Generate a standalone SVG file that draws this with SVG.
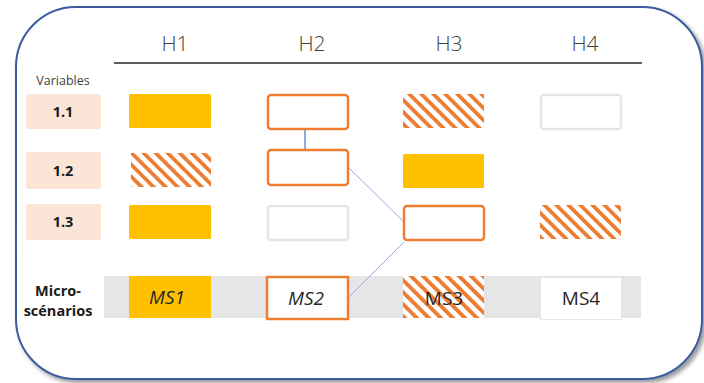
<svg xmlns="http://www.w3.org/2000/svg" width="704" height="383" viewBox="0 0 704 383">
  <defs>
    <pattern id="hatch" patternUnits="userSpaceOnUse" width="8.5" height="8.5" patternTransform="rotate(-45)">
      <rect width="8.5" height="8.5" fill="#ffffff"/>
      <rect width="3.8" height="8.5" fill="#ED7D31"/>
    </pattern>
    <filter id="shadow" x="-5%" y="-5%" width="110%" height="110%">
      <feGaussianBlur in="SourceAlpha" stdDeviation="2"/>
      <feOffset dx="2.5" dy="2.5" result="b"/>
      <feFlood flood-color="#000" flood-opacity="0.4"/>
      <feComposite in2="b" operator="in"/>
      <feMerge><feMergeNode/><feMergeNode in="SourceGraphic"/></feMerge>
    </filter>
  </defs>
  <style>
    .head { font-family: "Open Sans", "Liberation Sans", sans-serif; font-weight: 300; font-size: 21px; fill: #404040; text-anchor: middle; }
    .var { fill: #FBE5D6; }
    .varlbl { font-family: "Open Sans", "Liberation Sans", sans-serif; font-weight: 700; font-size: 14.5px; fill: #1a1a1a; text-anchor: middle; }
    .gold { fill: #FFC000; }
    .hatch { fill: url(#hatch); }
    .sel { fill: #ffffff; stroke: #ED7D31; stroke-width: 2.5; }
    .off { fill: #ffffff; stroke: #E6E6E6; stroke-width: 2.5; }
    .ms { font-family: "Open Sans", "Liberation Sans", sans-serif; font-size: 19px; fill: #262626; text-anchor: middle; }
    .link { fill: none; stroke: #8FAADC; stroke-width: 1; }
  </style>

  <!-- outer frame -->
  <rect x="16" y="7" width="686" height="372" rx="60" ry="60" fill="#ffffff" stroke="#3A5C9C" stroke-width="2" filter="url(#shadow)"/>

  <!-- column headers -->
  <g id="headers">
    <text class="head" x="175" y="51">H1</text>
    <text class="head" x="312" y="51">H2</text>
    <text class="head" x="449" y="51">H3</text>
    <text class="head" x="585" y="51">H4</text>
    <line x1="114" y1="63" x2="642" y2="63" stroke="#262626" stroke-width="1.5"/>
  </g>

  <!-- variable labels -->
  <g id="variables">
    <text x="63" y="85" font-family="Open Sans, Liberation Sans, sans-serif" font-size="12.5" fill="#404040" text-anchor="middle">Variables</text>
    <g id="var-1-1"><rect class="var" x="26" y="94" width="75" height="35" rx="3"/><text class="varlbl" x="63" y="117">1.1</text></g>
    <g id="var-1-2"><rect class="var" x="26" y="152" width="75" height="37" rx="3"/><text class="varlbl" x="63" y="175.5">1.2</text></g>
    <g id="var-1-3"><rect class="var" x="26" y="204" width="75" height="36" rx="3"/><text class="varlbl" x="63" y="227">1.3</text></g>
  </g>

  <!-- micro-scenario band -->
  <rect x="104" y="276" width="537" height="42" fill="#E7E6E6"/>
  <g id="ms-label">
    <text class="varlbl" x="58" y="296">Micro-</text>
    <text class="varlbl" x="58" y="315.5">scénarios</text>
  </g>

  <!-- connectors -->
  <g id="connectors">
    <line x1="305" y1="130" x2="305" y2="149" stroke="#4472C4" stroke-width="1.2"/>
    <line class="link" x1="349" y1="168" x2="404" y2="222"/>
    <line class="link" x1="404" y1="242" x2="348" y2="298"/>
  </g>

  <!-- H1 column -->
  <g id="h1-1-1"><rect class="gold" x="129" y="94" width="82" height="34" rx="1.5"/></g>
  <g id="h1-1-2"><rect class="hatch" x="131" y="153" width="80" height="34"/></g>
  <g id="h1-1-3"><rect class="gold" x="129" y="205" width="82" height="34" rx="1.5"/></g>
  <g id="ms1"><rect class="gold" x="129" y="276" width="82" height="42"/><text class="ms" x="167" y="304" font-style="italic">MS1</text></g>

  <!-- H2 column -->
  <g id="h2-1-1"><rect class="sel" x="268" y="95" width="80" height="34" rx="3"/></g>
  <g id="h2-1-2"><rect class="sel" x="268" y="150" width="80" height="35" rx="3"/></g>
  <g id="h2-1-3"><rect class="off" x="268" y="206" width="80" height="34" rx="3"/></g>
  <g id="ms2"><rect class="sel" x="267" y="277" width="81" height="42"/><text class="ms" x="306" y="305" font-style="italic">MS2</text></g>

  <!-- H3 column -->
  <g id="h3-1-1"><rect class="hatch" x="403" y="94" width="81" height="34"/></g>
  <g id="h3-1-2"><rect class="gold" x="403" y="154" width="81" height="34" rx="1.5"/></g>
  <g id="h3-1-3"><rect class="sel" x="404" y="206" width="80" height="34" rx="3"/></g>
  <g id="ms3"><rect class="hatch" x="403" y="276" width="81" height="42"/><text class="ms" x="444" y="305" font-size="20" fill="#000000">MS3</text></g>

  <!-- H4 column -->
  <g id="h4-1-1"><rect class="off" x="541" y="95" width="80" height="34" rx="3"/></g>
  <g id="h4-1-3"><rect class="hatch" x="540" y="205" width="81" height="34"/></g>
  <g id="ms4"><rect x="540.5" y="277.5" width="81" height="42" fill="#ffffff" stroke="#E6E6E6" stroke-width="1"/><text class="ms" x="581" y="305" font-size="20" fill="#000000">MS4</text></g>
</svg>
